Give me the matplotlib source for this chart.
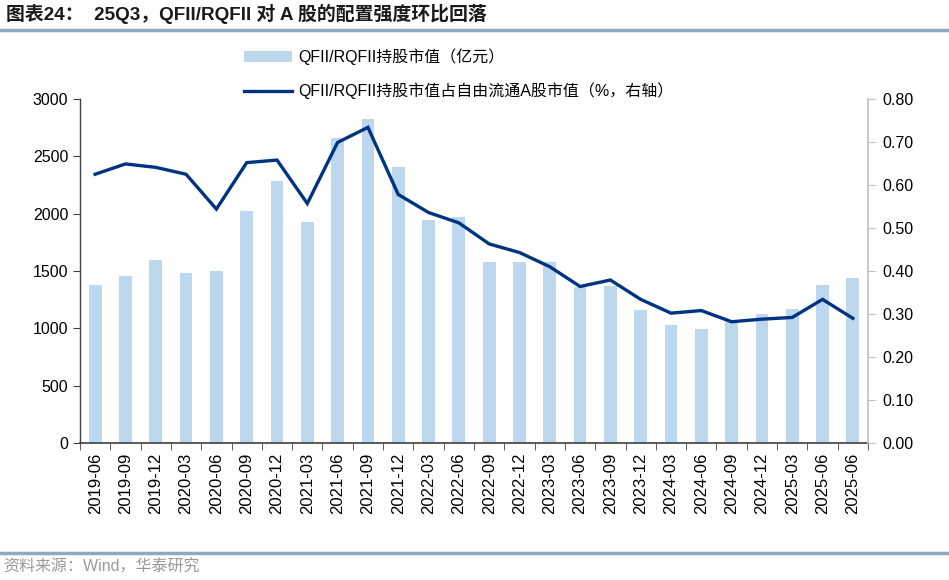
import matplotlib
matplotlib.use("Agg")
import matplotlib.pyplot as plt
import numpy as np

plt.rcParams['font.family'] = ['Liberation Sans', 'Noto Sans CJK SC', 'DejaVu Sans']

categories = ["2019-06", "2019-09", "2019-12", "2020-03", "2020-06", "2020-09", "2020-12",
              "2021-03", "2021-06", "2021-09", "2021-12", "2022-03", "2022-06", "2022-09",
              "2022-12", "2023-03", "2023-06", "2023-09", "2023-12", "2024-03", "2024-06",
              "2024-09", "2024-12", "2025-03", "2025-06", "2025-06"]
holdings = [1378, 1456, 1596, 1480, 1500, 2023, 2288, 1927, 2657, 2822, 2404, 1947, 1971,
            1578, 1578, 1575, 1363, 1369, 1163, 1029, 991, 1070, 1125, 1168, 1381, 1439]
ratio = [0.625, 0.649, 0.641, 0.625, 0.544, 0.652, 0.658, 0.557, 0.699, 0.734, 0.578,
         0.536, 0.512, 0.463, 0.443, 0.410, 0.364, 0.379, 0.334, 0.302, 0.308, 0.282,
         0.288, 0.292, 0.334, 0.290]
label_bar = "QFII/RQFII持股市值（亿元）"
label_line = "QFII/RQFII持股市值占自由流通A股市值（%，右轴）"
title = "图表24：  25Q3，QFII/RQFII 对 A 股的配置强度环比回落"
source = "资料来源：Wind，华泰研究"

fig = plt.figure(figsize=(9.49, 5.80), dpi=100)
ax = fig.add_axes([80/949, 1-443/580, (868-80)/949, (443-99)/580])
ax2 = ax.twinx()

x = np.arange(len(categories))
bars = ax.bar(x, holdings, width=0.42, color='#BDD7EE', zorder=1)
line, = ax2.plot(x, ratio, color='#003380', lw=2.4, solid_joinstyle='miter', zorder=3)

ax.set_xlim(-0.5, len(categories) - 0.5)
ax.set_ylim(0, 3000)
ax.set_yticks(np.arange(0, 3001, 500))
ax2.set_ylim(0, 0.8)
ax2.set_yticks(np.arange(0, 0.81, 0.1))
ax2.set_yticklabels([f"{v:.2f}" for v in np.arange(0, 0.81, 0.1)])

ax.set_xticks(x)
ax.set_xticklabels(categories, rotation=90, fontsize=12)
ax.set_xticks(np.arange(-0.5, len(categories), 1), minor=True)
ax.tick_params(axis='x', which='major', length=0, pad=7)
ax.tick_params(axis='x', which='minor', length=5, color='#404040', direction='out')
ax.tick_params(axis='y', labelsize=11.5, length=5, color='#404040')
ax2.tick_params(axis='y', labelsize=11.5, length=5, color='#BFBFBF', pad=5)

for a in (ax, ax2):
    a.spines['top'].set_visible(False)
ax.spines['left'].set_color('#404040')
ax.spines['bottom'].set_color('#404040')
ax.spines['right'].set_visible(False)
ax2.spines['left'].set_visible(False)
ax2.spines['bottom'].set_visible(False)
ax2.spines['right'].set_color('#BFBFBF')
ax2.spines['right'].set_linewidth(1.2)
ax.spines['bottom'].set_linewidth(1.2)
ax.spines['left'].set_linewidth(1.0)

ax.set_zorder(ax2.get_zorder() - 1)
ax.patch.set_visible(False)

fig.legend([bars, line], [label_bar, label_line], loc='upper left',
           bbox_to_anchor=(238/949, 1-42/580), frameon=False, fontsize=11.5,
           handlelength=3.0, handletextpad=0.4, labelspacing=1.1, borderaxespad=0)

fig.text(6/949, 1-14/580, title, fontsize=13.6, fontweight='bold', va='center', ha='left',
         color='#1a1a1a')
fig.add_artist(plt.Line2D([0, 1], [1-30/580, 1-30/580], color='#8FA9C4', lw=2.5))
fig.add_artist(plt.Line2D([0, 1], [1-553/580, 1-553/580], color='#8FA9C4', lw=2.5))
fig.text(3/949, 1-567/580, source, fontsize=11.5, color='#999999', va='center', ha='left')

fig.savefig("out.png", dpi=100)
